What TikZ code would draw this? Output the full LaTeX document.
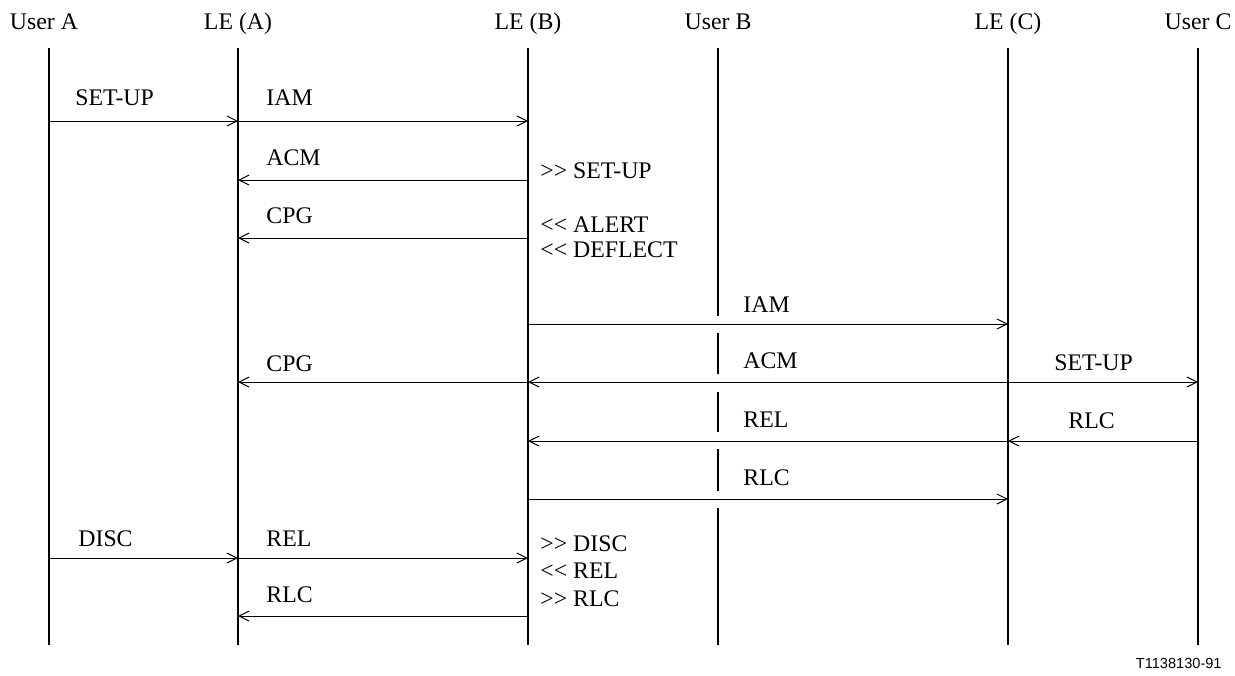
\documentclass[tikz,border=0pt]{standalone}
\usepackage{fontspec}
\setmainfont{Liberation Serif}
\newfontfamily\tagfont{Liberation Sans}
\usetikzlibrary{arrows.meta}
\begin{document}
\begin{tikzpicture}[x=0.5pt,y=-0.5pt,
  life/.style={line width=1pt},
  msg/.style={line width=0.5pt,-{Straight Barb[length=5pt,width=5pt,line width=0.5pt]}},
  head/.style={inner sep=0pt,anchor=base,font=\fontsize{11.9}{14}\selectfont},
  lbl/.style={inner sep=0pt,anchor=base west,font=\fontsize{11.9}{14}\selectfont},
  tag/.style={inner sep=0pt,anchor=base east,font=\tagfont\fontsize{7.3}{9}\selectfont}]
\useasboundingbox (0,0) rectangle (1235,675);
% headers
\node[head] (hUA) at (44,29) {User A};
\node[head] (hLA) at (238,29) {LE (A)};
\node[head] (hLB) at (528,29) {LE (B)};
\node[head] (hUB) at (718,29) {User B};
\node[head] (hLC) at (1008,29) {LE (C)};
\node[head] (hUC) at (1198,29) {User C};
% lifeline ends
\foreach \n/\x in {UA/49,LA/238,LB/528,UB/718,LC/1008,UC/1198}{
  \coordinate (\n top) at (\x,48);
  \coordinate (\n bot) at (\x,645);
}
% rows
\foreach \r/\y in {1/121,2/180,3/238,4/324,5/382,6/441,7/499,8/558,9/616}{
  \foreach \n/\x in {UA/49,LA/238,LB/528,UB/718,LC/1008,UC/1198}{
    \coordinate (\n\r) at (\x,\y);
  }
}
% lifelines
\draw[life] (UAtop) -- (UAbot);
\draw[life] (LAtop) -- (LAbot);
\draw[life] (LBtop) -- (LBbot);
\draw[life] (LCtop) -- (LCbot);
\draw[life] (UCtop) -- (UCbot);
\draw[life] (UBtop) -- ([yshift=4pt]UB4);
\draw[life] ([yshift=-4.5pt]UB4) -- ([yshift=4pt]UB5);
\draw[life] ([yshift=-5pt]UB5) -- ([yshift=4.5pt]UB6);
\draw[life] ([yshift=-4pt]UB6) -- ([yshift=4pt]UB7);
\draw[life] ([yshift=-4.5pt]UB7) -- (UBbot);
% messages
\draw[msg] (UA1) -- (LA1);
\draw[msg] (LA1) -- (LB1);
\draw[msg] (LB2) -- (LA2);
\draw[msg] (LB3) -- (LA3);
\draw[msg] (LB4) -- (LC4);
\draw[msg] (LB5) -- (LA5);
\draw[msg] (LC5) -- (LB5);
\draw[msg] (LC5) -- (UC5);
\draw[msg] (LC6) -- (LB6);
\draw[msg] (UC6) -- (LC6);
\draw[msg] (LB7) -- (LC7);
\draw[msg] (UA8) -- (LA8);
\draw[msg] (LA8) -- (LB8);
\draw[msg] (LB9) -- (LA9);
% labels
\node[lbl] (t1) at (75,105) {SET-UP};
\node[lbl] (t2) at (266,105) {IAM};
\node[lbl] (t3) at (266,165) {ACM};
\node[lbl] (t4) at (266,223) {CPG};
\node[lbl] (t5) at (540,178) {>{}> SET-UP};
\node[lbl] (t6) at (540,232) {<{}< ALERT};
\node[lbl] (t7) at (540,257) {<{}< DEFLECT};
\node[lbl] (t8) at (743,312) {IAM};
\node[lbl] (t9) at (266,371) {CPG};
\node[lbl] (t10) at (743,368) {ACM};
\node[lbl] (t11) at (1054,370) {SET-UP};
\node[lbl] (t12) at (743,427) {REL};
\node[lbl] (t13) at (1068,428) {RLC};
\node[lbl] (t14) at (743,485) {RLC};
\node[lbl] (t15) at (78,546) {DISC};
\node[lbl] (t16) at (266,546) {REL};
\node[lbl] (t17) at (540,551) {>{}> DISC};
\node[lbl] (t18) at (540,578) {<{}< REL};
\node[lbl] (t19) at (540,606) {>{}> RLC};
\node[lbl] (t20) at (266,602) {RLC};
\node[tag] (tag) at (1222,668) {T1138130-91};
\end{tikzpicture}
\end{document}
